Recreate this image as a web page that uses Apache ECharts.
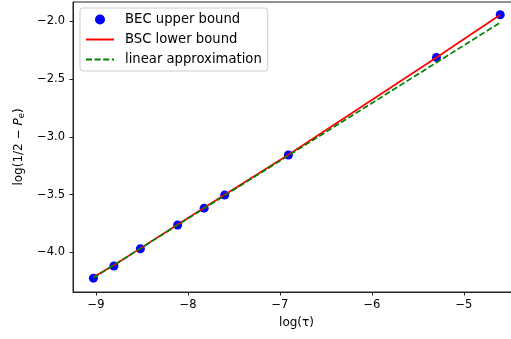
<!DOCTYPE html>
<html>
<head>
<meta charset="utf-8">
<script src="https://cdn.jsdelivr.net/npm/echarts@6/dist/echarts.min.js"></script>
<style>html,body{margin:0;padding:0;background:#fff}#c{width:511px;height:339px}</style>
</head>
<body>
<div id="c"></div>
<script>
// log(tau) values
const logTau = [-9.028, -8.805, -8.517, -8.112, -7.824, -7.601, -6.908, -5.298, -4.605];
// BEC upper bound (points)
const becUpper = [-4.224, -4.119, -3.970, -3.764, -3.618, -3.505, -3.158, -2.313, -1.943];
// BSC lower bound (line)
const bscLower = [-4.215, -4.113, -3.966, -3.760, -3.614, -3.502, -3.155, -2.313, -1.943];
// linear approximation (endpoints)
const linX = [-9.028, -4.605];
const linY = [-4.222, -2.011];
const xTicks = [-9, -8, -7, -6, -5];
const yTicks = [-4.0, -3.5, -3.0, -2.5, -2.0];

const FONT = 'DejaVu Sans';
const FS = 11.5;
const fmtX = v => (v < 0 ? '\u2212' : '') + Math.abs(v).toFixed(0);
const fmtY = v => (v < 0 ? '\u2212' : '') + Math.abs(v).toFixed(1);
const zip = (a, b) => a.map((v, i) => [v, b[i]]);

const chart = echarts.init(document.getElementById('c'), null, {renderer: 'canvas'});
chart.setOption({
  animation: false,
  backgroundColor: '#fff',
  textStyle: {fontFamily: FONT},
  grid: {left: 73, right: -9, top: 2, bottom: 47, show: true, borderColor: '#222', borderWidth: 1,
    containLabel: false, outerBoundsMode: 'none'},
  xAxis: {
    type: 'value', min: -9.25, max: -4.39,
    name: 'log(\u03C4)', nameLocation: 'middle', nameGap: 25,
    nameTextStyle: {fontFamily: FONT, fontSize: 12, color: '#000'},
    axisLine: {show: true, onZero: false, lineStyle: {color: '#222', width: 1}},
    axisTick: {show: true, length: 3.5, lineStyle: {color: '#222', width: 1}, customValues: xTicks},
    axisLabel: {fontFamily: FONT, fontSize: FS, color: '#000', margin: 7, customValues: xTicks, formatter: fmtX},
    splitLine: {show: false}
  },
  yAxis: {
    type: 'value', min: -4.344, max: -1.833,
    name: 'log(1/2 \u2212 {i|P}{s|e})', nameLocation: 'middle', nameGap: 45, nameRotate: 90,
    nameTextStyle: {fontFamily: FONT, fontSize: 12, color: '#000',
      rich: {i: {fontFamily: FONT, fontSize: 12, fontStyle: 'italic', color: '#000'},
             s: {fontFamily: FONT, fontSize: 8.5, color: '#000', padding: [6, 0, 0, 0]}}},
    axisLine: {show: true, onZero: false, lineStyle: {color: '#222', width: 1}},
    axisTick: {show: true, length: 3.5, lineStyle: {color: '#222', width: 1}, customValues: yTicks},
    axisLabel: {fontFamily: FONT, fontSize: FS, color: '#000', margin: 8, customValues: yTicks, formatter: fmtY},
    splitLine: {show: false}
  },
  legend: {
    left: 80, top: 8, orient: 'vertical',
    itemWidth: 28, itemHeight: 10, itemGap: 7,
    padding: [5, 6, 5, 5],
    borderColor: '#cccccc', borderWidth: 1, borderRadius: 3,
    backgroundColor: 'rgba(255,255,255,0.8)',
    textStyle: {fontFamily: FONT, fontSize: 13.2, color: '#000', padding: [0, 0, 0, 6]},
    data: [
      {name: 'BEC upper bound', icon: 'circle', itemStyle: {color: '#0000ff', opacity: 1}},
      {name: 'BSC lower bound', itemStyle: {opacity: 0}},
      {name: 'linear approximation', itemStyle: {opacity: 0}}
    ]
  },
  series: [
    {name: 'BEC upper bound', type: 'scatter', data: zip(logTau, becUpper), symbol: 'circle', symbolSize: 9,
      itemStyle: {color: '#0000ff', opacity: 1}, z: 2},
    {name: 'BSC lower bound', type: 'line', data: zip(logTau, bscLower), showSymbol: false, symbol: 'none',
      lineStyle: {color: '#ff0000', width: 1.7}, itemStyle: {color: '#ff0000'}, z: 3},
    {name: 'linear approximation', type: 'line', data: zip(linX, linY), showSymbol: false, symbol: 'none',
      lineStyle: {color: '#008000', width: 1.7, type: [6, 2.6]}, itemStyle: {color: '#008000'}, z: 4}
  ]
});
</script>
</body>
</html>
